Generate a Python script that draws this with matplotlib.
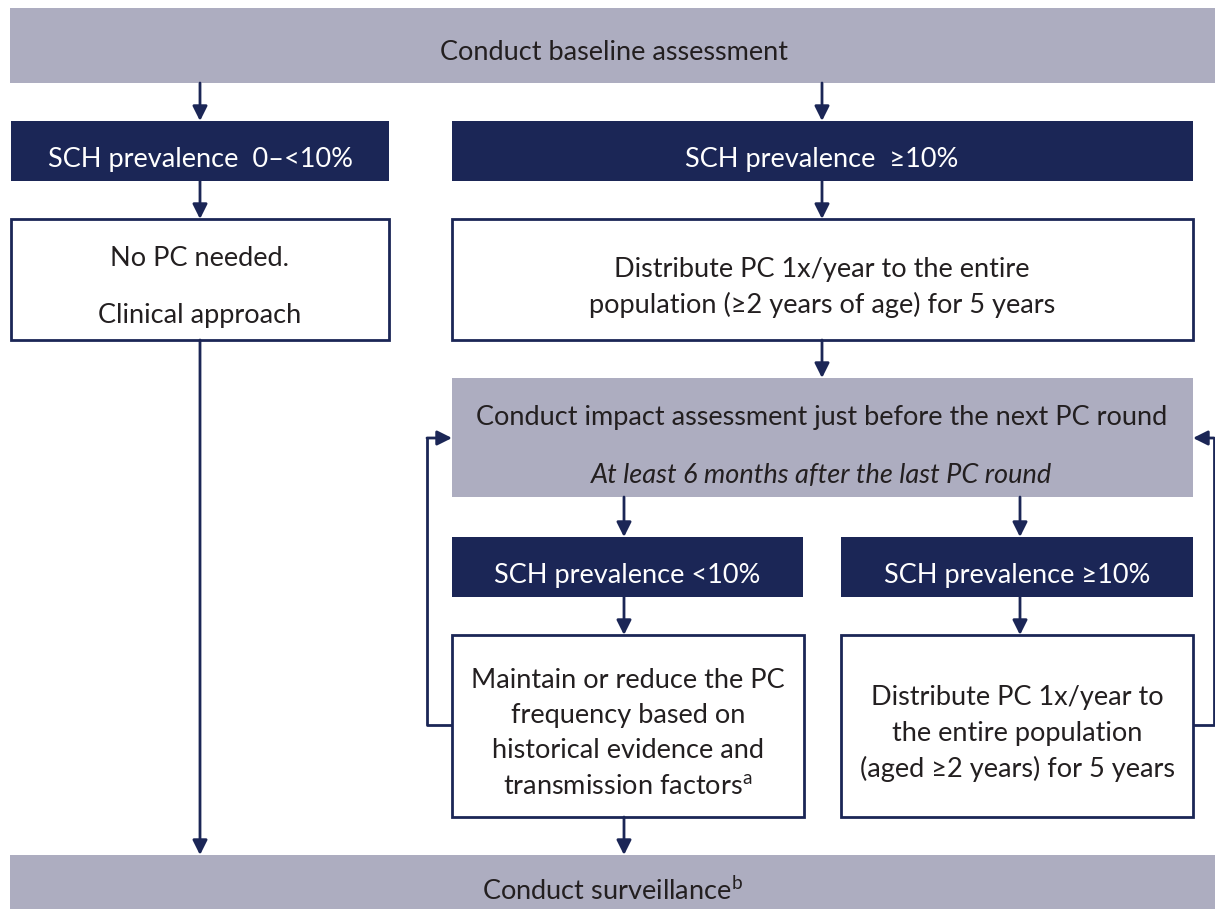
import matplotlib.pyplot as plt
from matplotlib.patches import Rectangle, FancyArrowPatch

plt.rcParams['font.family'] = ['Lato', 'DejaVu Sans']

# Colours
GRAY = '#adadc0'
NAVY = '#1b2656'
TEXT = '#231f20'

# Box texts
top_text = 'Conduct baseline assessment'
left_header = 'SCH prevalence  0\u2013<10%'
right_header = 'SCH prevalence  \u226510%'
left_box = ['No PC needed.', 'Clinical approach']
right_box = ['Distribute PC 1x/year to the entire',
             'population (\u22652 years of age) for 5 years']
impact_text = 'Conduct impact assessment just before the next PC round'
impact_note = 'At least 6 months after the last PC round'
low_header = 'SCH prevalence <10%'
high_header = 'SCH prevalence \u226510%'
low_box = ['Maintain or reduce the PC', 'frequency based on',
           'historical evidence and', 'transmission factors$^{\\mathregular{a}}$']
high_box = ['Distribute PC 1x/year to', 'the entire population',
            '(aged \u22652 years) for 5 years']
bottom_text = 'Conduct surveillance$^{\\mathregular{b}}$'

fig = plt.figure(figsize=(12.15, 9.09), dpi=100)
ax = fig.add_axes([0, 0, 1, 1])
ax.set_xlim(0, 1215)
ax.set_ylim(909, 0)
ax.axis('off')

FS = 19.5
DY = 2  # small nudge so text sits like the reference


def box(x0, y0, x1, y1, kind):
    if kind == 'gray':
        r = Rectangle((x0, y0), x1 - x0, y1 - y0, facecolor=GRAY, edgecolor='none')
    elif kind == 'navy':
        r = Rectangle((x0, y0), x1 - x0, y1 - y0, facecolor=NAVY, edgecolor='none')
    else:
        r = Rectangle((x0, y0), x1 - x0, y1 - y0, facecolor='white',
                      edgecolor=NAVY, linewidth=2)
    ax.add_patch(r)


def lines(xc, ys, texts, color=TEXT, style='normal'):
    for y, t in zip(ys, texts):
        ax.text(xc, y + DY, t, ha='center', va='center', fontsize=FS,
                color=color, style=style)


def arrow(points):
    xs = [p[0] for p in points]
    ys = [p[1] for p in points]
    ax.plot(xs[:-1], ys[:-1], color=NAVY, lw=2, solid_capstyle='butt')
    a = FancyArrowPatch(points[-2], points[-1], arrowstyle='-|>',
                        mutation_scale=22, color=NAVY, lw=2,
                        shrinkA=0, shrinkB=0)
    ax.add_patch(a)


# boxes
box(10, 8, 1215, 83, 'gray')
lines(614, [51], [top_text])

box(11, 121, 389, 181, 'navy')
lines(200, [157], [left_header], color='white')
box(452, 121, 1193, 181, 'navy')
lines(822, [157], [right_header], color='white')

box(11, 219, 389, 340, 'white')
lines(200, [257, 314], left_box)
box(452, 219, 1193, 340, 'white')
lines(822, [268, 303], right_box)

box(452, 378, 1193, 497, 'gray')
lines(822, [415], [impact_text])
lines(822, [473], [impact_note], style='italic')

box(452, 537, 803, 597, 'navy')
lines(627, [573], [low_header], color='white')
box(841, 537, 1193, 597, 'navy')
lines(1017, [573], [high_header], color='white')

box(452, 635, 804, 817, 'white')
lines(628, [678, 714, 749, 785], low_box)
box(841, 635, 1193, 817, 'white')
lines(1017, [696, 731, 767], high_box)

box(10, 855, 1215, 909, 'gray')
lines(612, [889], [bottom_text])

# arrows
arrow([(200, 83), (200, 121)])
arrow([(822, 83), (822, 121)])
arrow([(200, 181), (200, 219)])
arrow([(822, 181), (822, 219)])
arrow([(200, 340), (200, 855)])
arrow([(822, 340), (822, 378)])
arrow([(624, 497), (624, 537)])
arrow([(1020, 497), (1020, 537)])
arrow([(624, 597), (624, 635)])
arrow([(1020, 597), (1020, 635)])
arrow([(624, 817), (624, 855)])
arrow([(452, 725), (427, 725), (427, 438), (452, 438)])
arrow([(1193, 725), (1214, 725), (1214, 438), (1193, 438)])

fig.savefig('out.png', dpi=100)
